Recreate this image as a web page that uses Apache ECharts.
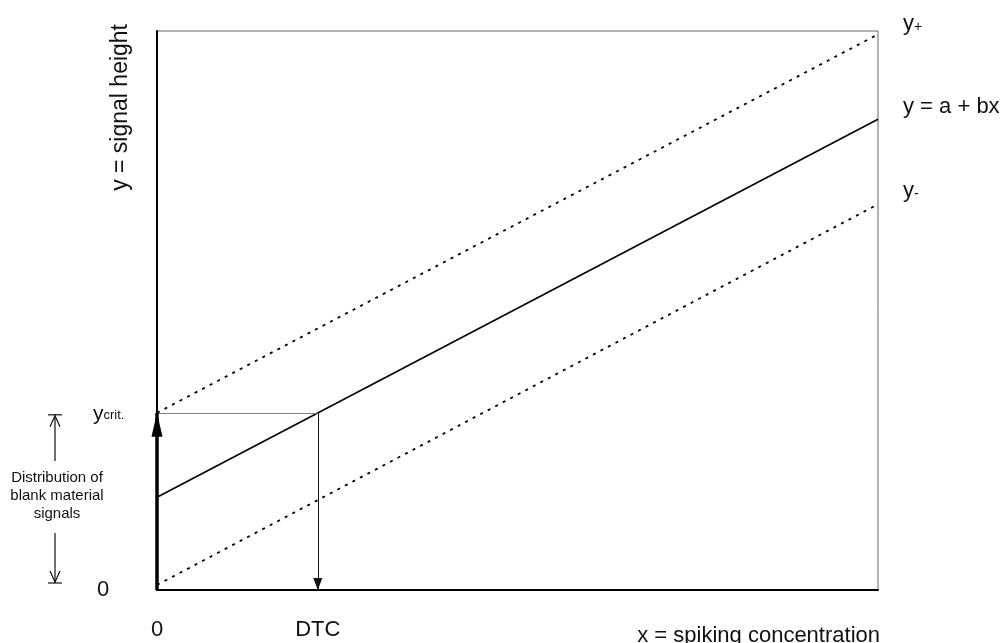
<!DOCTYPE html>
<html>
<head>
<meta charset="utf-8">
<script src="https://cdn.jsdelivr.net/npm/echarts@6/dist/echarts.min.js"></script>
<style>
  html, body { margin: 0; padding: 0; background: #fff; }
  #chart { width: 1001px; height: 643px; }
</style>
</head>
<body>
<div id="chart"></div>
<script>
// Calibration line with its upper / lower prediction band (arbitrary units)
const xEnds = [0, 100];
const fitLine = [16.6, 84.2];    // y = a + bx
const upperBand = [31.7, 99.4];  // y+
const lowerBand = [0.9, 69.0];   // y-
const yCrit = 31.7;              // critical signal level
const dtc = 22.3;                // concentration where the fit reaches yCrit

const xTickValues = [0, dtc];
const xTickLabels = ['0', 'DTC'];
const yTickValues = [0, yCrit];
const yTickLabels = ['{z|0}', '{y|y}{s|crit.}'];

const blankLabel = ['Distribution of', 'blank material', 'signals'];

const FONT = "'Liberation Sans', Arial, Helvetica, sans-serif";
const pairs = ys => xEnds.map((x, i) => [x, ys[i]]);

const chart = echarts.init(document.getElementById('chart'), null, { renderer: 'canvas' });

const endLabelBase = {
  show: true,
  distance: 25,
  fontFamily: FONT,
  fontSize: 22,
  color: '#111',
  align: 'left',
  verticalAlign: 'middle'
};
const subRich = {
  v: { fontFamily: FONT, fontSize: 22, color: '#111', lineHeight: 24 },
  s: { fontFamily: FONT, fontSize: 14, color: '#111', lineHeight: 14, verticalAlign: 'bottom', padding: [0, 0, 2, 0] }
};

chart.setOption({
  animation: false,
  backgroundColor: '#fff',
  grid: {
    left: 157, right: 123, top: 31, bottom: 53,
    show: true, borderColor: '#666', borderWidth: 1,
    containLabel: false, outerBoundsMode: 'none'
  },
  xAxis: {
    type: 'value', min: 0, max: 100,
    axisLine: { show: true, onZero: false, lineStyle: { color: '#000', width: 2 } },
    axisTick: { show: false },
    splitLine: { show: false },
    axisLabel: {
      customValues: xTickValues,
      formatter: v => xTickLabels[xTickValues.indexOf(v)],
      margin: 29,
      fontFamily: FONT, fontSize: 22, color: '#111'
    },
    name: 'x = spiking concentration',
    nameLocation: 'end',
    nameGap: 2,
    nameTextStyle: {
      fontFamily: FONT, fontSize: 22, color: '#111',
      align: 'right', verticalAlign: 'top', padding: [35, 0, 0, 0]
    }
  },
  yAxis: {
    type: 'value', min: 0, max: 100,
    axisLine: { show: true, onZero: false, lineStyle: { color: '#000', width: 2 } },
    axisTick: { show: false },
    splitLine: { show: false },
    axisLabel: {
      customValues: yTickValues,
      formatter: v => yTickLabels[yTickValues.indexOf(v)],
      align: 'left',
      margin: 64,
      rich: {
        z: { fontFamily: FONT, fontSize: 22, color: '#111', padding: [0, 0, 0, 4] },
        y: { fontFamily: FONT, fontSize: 21, color: '#111', lineHeight: 22, padding: [3, 0, 0, 0] },
        s: { fontFamily: FONT, fontSize: 13, color: '#111', lineHeight: 13, verticalAlign: 'bottom', padding: [0, 0, 2, 0] }
      }
    },
    name: 'y = signal height',
    nameLocation: 'end',
    nameGap: 7,
    nameRotate: 90,
    nameTextStyle: {
      fontFamily: FONT, fontSize: 23, color: '#111',
      align: 'right', verticalAlign: 'bottom', padding: [0, 0, 25, 0]
    }
  },
  series: [
    {
      name: 'fit',
      type: 'line',
      data: pairs(fitLine),
      symbol: 'none',
      clip: false,
      lineStyle: { color: '#000', width: 1.6 },
      endLabel: Object.assign({}, endLabelBase, { formatter: 'y = a + bx', offset: [0, -12] }),
      markLine: {
        silent: true,
        animation: false,
        label: { show: false },
        symbol: ['none', 'none'],
        data: [
          [
            { coord: [0, yCrit], lineStyle: { color: '#808080', width: 1, type: 'solid' } },
            { coord: [dtc, yCrit] }
          ],
          [
            { coord: [dtc, yCrit], lineStyle: { color: '#111', width: 1, type: 'solid' } },
            { coord: [dtc, 0], symbol: 'triangle', symbolSize: [9, 12], symbolOffset: [0, 6] }
          ],
          [
            { coord: [0, 0], lineStyle: { color: '#000', width: 3.5, type: 'solid' } },
            { coord: [0, yCrit], symbol: 'triangle', symbolSize: [11, 24], symbolOffset: [0, 12] }
          ]
        ]
      }
    },
    {
      name: 'upper',
      type: 'line',
      data: pairs(upperBand),
      symbol: 'none',
      lineStyle: { color: '#000', width: 1.8, type: [3, 5.5] },
      endLabel: Object.assign({}, endLabelBase, { formatter: '{v|y}{s|+}', rich: subRich, offset: [0, -10] })
    },
    {
      name: 'lower',
      type: 'line',
      data: pairs(lowerBand),
      symbol: 'none',
      lineStyle: { color: '#000', width: 1.8, type: [3, 5.5] },
      endLabel: Object.assign({}, endLabelBase, { formatter: '{v|y}{s|-}', rich: subRich, offset: [0, -13] })
    }
  ]
});

// Blank-signal distribution annotation, anchored to 0 and yCrit on the y axis
const p0 = chart.convertToPixel({ gridIndex: 0 }, [0, 0]);
const pc = chart.convertToPixel({ gridIndex: 0 }, [0, yCrit]);
const ax = 55;
const topBar = pc[1] + 2;
const botBar = p0[1] - 7;
const mid = (topBar + botBar) / 2;
const stroke = { stroke: '#111', lineWidth: 1.2, fill: null };

chart.setOption({
  graphic: [
    { type: 'line', shape: { x1: ax - 7, y1: topBar, x2: ax + 7, y2: topBar }, style: stroke, silent: true },
    { type: 'line', shape: { x1: ax, y1: topBar, x2: ax, y2: mid - 38 }, style: stroke, silent: true },
    { type: 'polyline', shape: { points: [[ax - 5, topBar + 12], [ax, topBar + 1], [ax + 5, topBar + 12]] }, style: stroke, silent: true },
    { type: 'line', shape: { x1: ax - 7, y1: botBar, x2: ax + 7, y2: botBar }, style: stroke, silent: true },
    { type: 'line', shape: { x1: ax, y1: mid + 34, x2: ax, y2: botBar }, style: stroke, silent: true },
    { type: 'polyline', shape: { points: [[ax - 5, botBar - 12], [ax, botBar - 1], [ax + 5, botBar - 12]] }, style: stroke, silent: true },
    {
      type: 'text', x: ax + 2, y: mid - 3, silent: true,
      style: {
        text: blankLabel.join('\n'),
        fontFamily: FONT, fontSize: 15, lineHeight: 18, fill: '#111',
        align: 'center', verticalAlign: 'middle'
      }
    }
  ]
});
</script>
</body>
</html>
